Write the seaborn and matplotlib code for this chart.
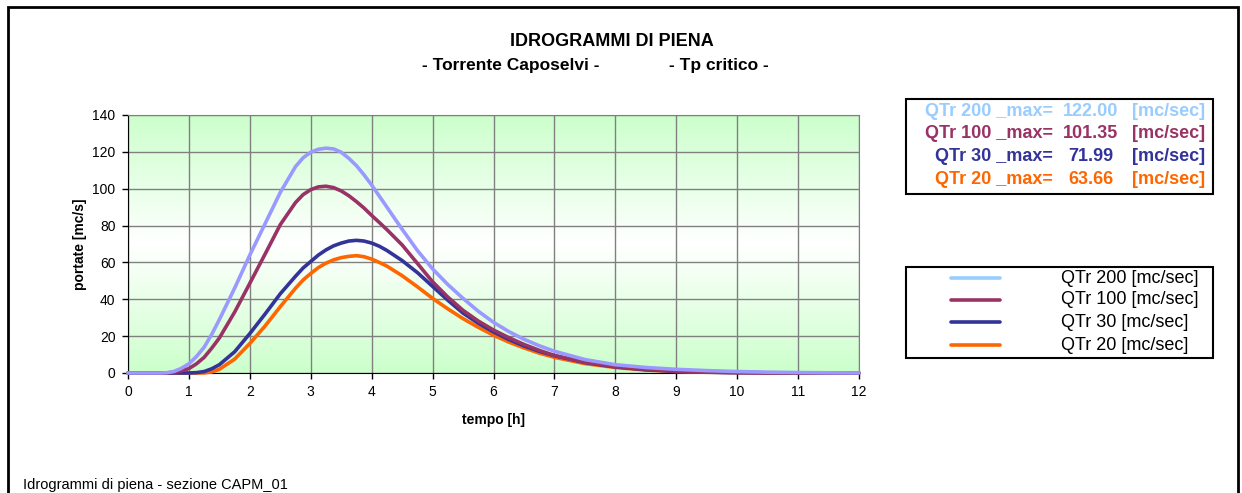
import numpy as np
import pandas as pd
import matplotlib.pyplot as plt
import seaborn as sns
from matplotlib.lines import Line2D
from matplotlib.patches import Rectangle

# tempo [h] e portate [mc/s]
tempo = [0, 0.25, 0.5, 0.625, 0.75, 0.875, 1, 1.125, 1.25, 1.375, 1.5, 1.75, 2, 2.25, 2.5, 2.75,
         2.875, 3, 3.125, 3.25, 3.375, 3.5, 3.625, 3.75, 3.875, 4, 4.125,
         4.25, 4.5, 4.75, 5, 5.25, 5.5, 5.75, 6, 6.25, 6.5, 6.75, 7,
         7.5, 8, 8.5, 9, 9.5, 10, 10.5, 11, 11.5, 12]

q200 = [0, 0, 0, 0.1, 0.8, 2.5, 5, 9, 14, 21, 29, 46, 64, 81, 98, 112,
        116.8, 119.8, 121.4, 122, 121.6, 119.8, 116.5, 112.5, 107.5, 102, 96,
        90, 78, 66.5, 56.5, 48, 40.5, 33.5, 27.5, 22.5, 18.3, 14.8, 11.8,
        7.3, 4.5, 3.0, 2.0, 1.3, 0.8, 0.45, 0.25, 0.1, 0.05]
q100 = [0, 0, 0, 0, 0.4, 1.2, 2.4, 5, 8.5, 13.5, 19, 33, 48.7, 64.5, 80.5, 92.5,
        96.8, 99.5, 101, 101.35, 100.6, 98.8, 96.2, 93, 89.5, 85.5, 81.7,
        77.8, 69.5, 59.5, 49.5, 41.2, 34, 28.2, 23.3, 19.2, 15.5, 12.3, 9.5,
        5.8, 3.4, 1.9, 1.0, 0.5, 0.25, 0.1, 0.05, 0, 0]
q30 = [0, 0, 0, 0, 0, 0, 0, 0.2, 0.8, 2.3, 4.5, 11.5, 21.4, 32, 43, 52.5,
       57, 60.5, 64, 66.8, 69, 70.5, 71.6, 71.99, 71.6, 70.5, 68.8,
       66.5, 61, 54.5, 47, 39.5, 32.5, 27, 22.3, 18.2, 14.7, 11.8, 9.4,
       5.7, 3.3, 1.8, 0.9, 0.45, 0.2, 0.1, 0.05, 0, 0]
q20 = [0, 0, 0, 0, 0, 0, 0, 0, 0, 0.6, 2, 7.5, 16, 25.5, 36, 46,
       50.5, 54, 57.2, 59.6, 61.4, 62.6, 63.3, 63.66, 63.1, 61.8, 60,
       58, 52.8, 46.8, 40.5, 34.8, 29.5, 24.8, 20.5, 16.8, 13.6, 10.8, 8.5,
       5.1, 3.0, 1.6, 0.8, 0.4, 0.2, 0.1, 0, 0, 0]

serie = ["QTr 200", "QTr 100", "QTr 30", "QTr 20"]
q_max = ["122.00", "101.35", "71.99", "63.66"]
colori_linea = ["#9999FF", "#993366", "#333399", "#FF6600"]
colori_testo = ["#99CCFF", "#993366", "#333399", "#FF6600"]

df = pd.concat([
    pd.DataFrame({"tempo": tempo, "portata": q, "serie": s})
    for s, q in zip(serie, [q200, q100, q30, q20])
])

sns.set_style("white")
plt.rcParams["font.family"] = ["Liberation Sans", "DejaVu Sans"]
plt.rcParams.update({"text.color": "black", "axes.labelcolor": "black",
                     "xtick.color": "black", "ytick.color": "black"})

W, H = 1242, 493
fx = lambda px: px / W
fy = lambda py: 1 - py / H

fig = plt.figure(figsize=(W / 100, H / 100), dpi=100)
ax = fig.add_axes([fx(128), fy(373), (859 - 128) / W, (373 - 115) / H])

# sfondo sfumato verde-bianco-verde
t = np.abs(np.linspace(-1, 1, 256))
grad = np.stack([1 - 0.2 * t, np.ones_like(t), 1 - 0.2 * t], axis=1)[:, None, :]
ax.imshow(grad, extent=[0, 12, 0, 140], aspect="auto", zorder=-1)

pal = dict(zip(serie, colori_linea))
sns.lineplot(data=df, x="tempo", y="portata", hue="serie",
             hue_order=serie[::-1], palette=pal, linewidth=2.6,
             legend=False, ax=ax, clip_on=False, zorder=3)

ax.set_xlim(0, 12)
ax.set_ylim(0, 140)
ax.set_xticks(range(0, 13))
ax.set_yticks(range(0, 141, 20))
ax.grid(True, color="#808080", linewidth=1)
ax.tick_params(direction="out", length=4, width=1, color="black",
               labelsize=10, left=True, bottom=True, pad=5)
for s in ["left", "bottom"]:
    ax.spines[s].set_color("black")
for s in ["top", "right"]:
    ax.spines[s].set_color("#808080")
ax.set_xlabel("tempo [h]", fontsize=10, fontweight="bold", labelpad=10)
ax.set_ylabel("portate [mc/s]", fontsize=10, fontweight="bold", labelpad=4)

# titolo
fig.text(fx(612), fy(42), "IDROGRAMMI DI PIENA", ha="center", va="center",
         fontsize=13, fontweight="bold")
fig.text(fx(511), fy(65), "- Torrente Caposelvi -", ha="center", va="center",
         fontsize=12.5, fontweight="bold")
fig.text(fx(719), fy(65), "- Tp critico -", ha="center", va="center",
         fontsize=12.5, fontweight="bold")

# riquadro valori massimi
fig.add_artist(Rectangle((fx(906), fy(194)), (1213 - 906) / W, (194 - 99) / H,
                         transform=fig.transFigure, fill=False,
                         edgecolor="black", linewidth=1.5))
righe1 = [111.7, 134, 156.7, 179.3]
for s, v, c, y in zip(serie, q_max, colori_testo, righe1):
    fig.text(fx(1052.7), fy(y), s + " _max=", ha="right", va="center",
             fontsize=13, fontweight="bold", color=c)
    fig.text(fx(1090.7), fy(y), v, ha="center", va="center",
             fontsize=13, fontweight="bold", color=c)
    fig.text(fx(1131.7), fy(y), "[mc/sec]", ha="left", va="center",
             fontsize=13, fontweight="bold", color=c)

# legenda
fig.add_artist(Rectangle((fx(906), fy(358)), (1213 - 906) / W, (358 - 267) / H,
                         transform=fig.transFigure, fill=False,
                         edgecolor="black", linewidth=1.5))
righe2 = [278.3, 300, 322.3, 345]
for s, c, y in zip(serie, colori_testo, righe2):
    fig.add_artist(Line2D([fx(951), fx(1000)], [fy(y), fy(y)],
                          transform=fig.transFigure, color=c, linewidth=2.6))
    fig.text(fx(1061), fy(y), s + " [mc/sec]", ha="left", va="center", fontsize=13)

fig.text(fx(23), fy(485), "Idrogrammi di piena - sezione CAPM_01",
         ha="left", va="center", fontsize=10.5)

# cornice esterna
fig.add_artist(Rectangle((fx(8), -0.02), (1238 - 8) / W, fy(7) + 0.02,
                         transform=fig.transFigure, fill=False,
                         edgecolor="black", linewidth=2))

fig.savefig("out.png", dpi=100)
